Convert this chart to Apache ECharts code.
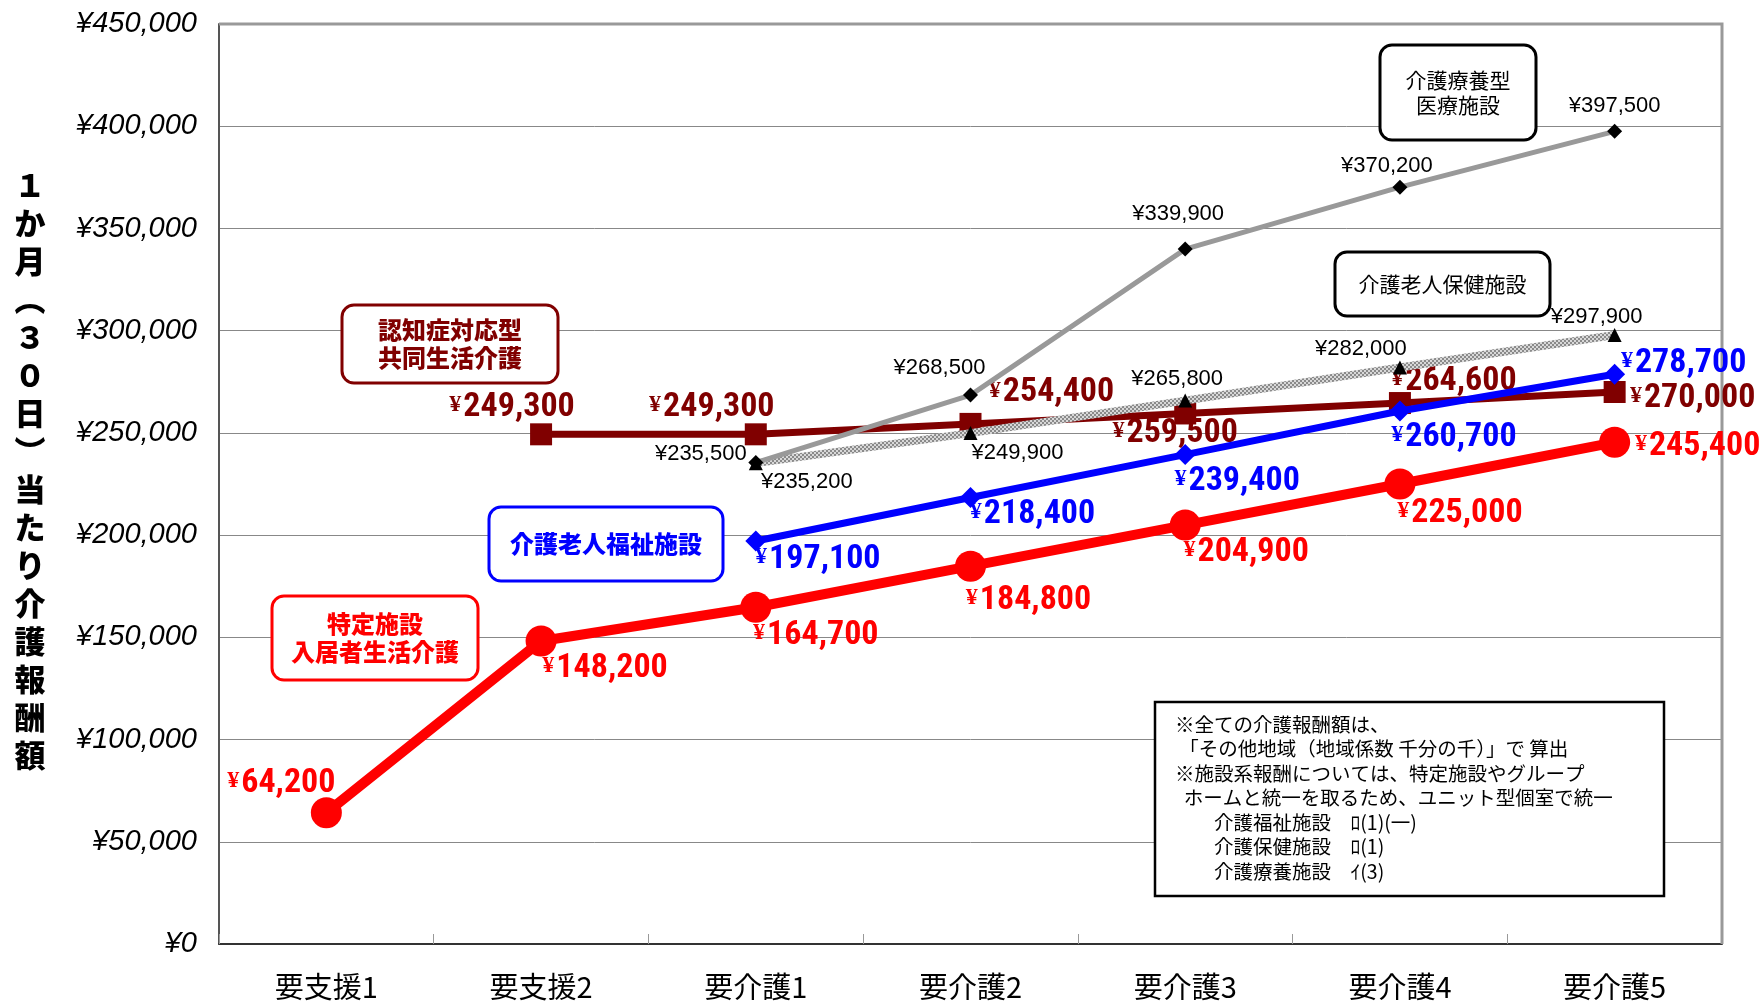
<!DOCTYPE html>
<html>
<head>
<meta charset="utf-8">
<script src="https://cdn.jsdelivr.net/npm/echarts@6/dist/echarts.min.js"></script>
<style>
  html, body { margin: 0; padding: 0; background: #fff; }
  #chart { width: 1762px; height: 1004px; }
</style>
</head>
<body>
<div id="chart"></div>
<script>
const categories = ['要支援1', '要支援2', '要介護1', '要介護2', '要介護3', '要介護4', '要介護5'];
const tokuteiValues = [64200, 148200, 164700, 184800, 204900, 225000, 245400];
const groupHomeValues = [null, 249300, 249300, 254400, 259500, 264600, 270000];
const fukushiValues = [null, null, 197100, 218400, 239400, 260700, 278700];
const hokenValues = [null, null, 235200, 249900, 265800, 282000, 297900];
const ryoyoValues = [null, null, 235500, 268500, 339900, 370200, 397500];
const yTicks = [0, 50000, 100000, 150000, 200000, 250000, 300000, 350000, 400000, 450000];

// label offsets from the marker centre (layout only)
const tokuteiOffsets = [[-45, -29], [64, 27], [60, 28], [58, 34], [61, 27], [60, 29], [83, 4]];
const groupHomeOffsets = [null, [-29, -27], [-44, -27], [81, -31], [-10, 20], [54, -22], [78, 6]];
const fukushiOffsets = [null, null, [62, 18], [62, 17], [52, 27], [54, 26], [69, -11]];
const hokenOffsets = [null, null, [51, 19], [47, 20], [-8, -22], [-39, -19], [-18, -18]];
const ryoyoOffsets = [null, null, [-55, -9], [-31, -27], [-7, -35], [-13, -21], [0, -25]];

const yen = v => '¥' + Number(v).toLocaleString('en-US');
const popFont = '"Roboto Condensed", "Open Sans", sans-serif';
const jpFont = '"Noto Sans CJK JP", sans-serif';
const plainFont = '"Liberation Sans", Arial, sans-serif';

const build = (values, offsets) => values.map((v, i) =>
  v == null ? '-' : { value: v, label: { offset: offsets[i] } });

// bold "pop" label with a smaller yen sign
const popLabel = color => ({
  show: true, position: 'inside',
  formatter: p => '{y|¥}{n|' + Number(p.value).toLocaleString('en-US') + '}',
  rich: {
    y: { color: color, fontSize: 24, fontWeight: 'bold', fontFamily: '"Liberation Serif", serif',
      verticalAlign: 'middle', padding: [0, 2, 5, 0] },
    n: { color: color, fontSize: 34, fontWeight: 'bold', fontFamily: popFont }
  }
});
const plainLabel = {
  show: true, position: 'inside', formatter: p => yen(p.value),
  color: '#000', fontSize: 22, fontFamily: plainFont
};

// hatched stroke for 介護老人保健施設
const hatch = document.createElement('canvas');
hatch.width = 4; hatch.height = 4;
const hctx = hatch.getContext('2d');
hctx.fillStyle = '#d8d8d8'; hctx.fillRect(0, 0, 4, 4);
hctx.fillStyle = '#8a8a8a';
hctx.fillRect(0, 0, 2, 2); hctx.fillRect(2, 2, 2, 2);

const chart = echarts.init(document.getElementById('chart'));

const boxText = (x, y, w, h, text, color, bold, size) => ({
  type: 'group',
  children: [
    { type: 'rect', shape: { x: x, y: y, width: w, height: h, r: 12 },
      style: { fill: '#fff', stroke: color, lineWidth: 3 }, z: 10 },
    { type: 'text', x: x + w / 2, y: y + h / 2, z: 11,
      style: { text: text, fill: color, font: (bold ? '900 ' : '') + size + 'px ' + jpFont,
        textAlign: 'center', textVerticalAlign: 'middle', lineHeight: size * 1.15 } }
  ]
});

const noteLines = [
  '※全ての介護報酬額は、',
  ' 「その他地域（地域係数 千分の千）」で 算出',
  '※施設系報酬については、特定施設やグループ',
  '  ホームと統一を取るため、ユニット型個室で統一',
  '　　介護福祉施設　ﾛ(1)(一)',
  '　　介護保健施設　ﾛ(1)',
  '　　介護療養施設　ｲ(3)'
];

const option = {
  backgroundColor: '#fff',
  animation: false,
  grid: { left: 219, right: 40, top: 24, bottom: 60 },
  xAxis: {
    type: 'category',
    data: categories,
    boundaryGap: true,
    axisLine: { lineStyle: { color: '#333', width: 2 } },
    axisTick: { show: true, inside: true, length: 10, lineStyle: { color: '#999' } },
    axisLabel: { color: '#000', fontSize: 29, fontFamily: jpFont, margin: 28 }
  },
  yAxis: {
    type: 'value',
    min: 0, max: 450000, interval: 50000,
    axisLine: { show: true, lineStyle: { color: '#555', width: 2 } },
    axisTick: { show: false },
    splitLine: { lineStyle: { color: '#888', width: 1 } },
    axisLabel: {
      color: '#000', fontSize: 29, fontStyle: 'italic',
      fontFamily: plainFont, margin: 22,
      formatter: v => yTicks.includes(v) ? yen(v) : ''
    }
  },
  graphic: [
    // plot frame (top/right)
    { type: 'polyline', z: 1, shape: { points: [[219, 24], [1722, 24], [1722, 944]] },
      style: { stroke: '#999', lineWidth: 3, fill: null } },
    { type: 'text', x: 30, y: 166,
      style: { text: '１\nか\n月\n︵\n３\n０\n日\n︶\n当\nた\nり\n介\n護\n報\n酬\n額',
        font: '900 31px ' + jpFont, fill: '#000', textAlign: 'center', lineHeight: 38 } },
    boxText(342, 305, 216, 78, '認知症対応型\n共同生活介護', '#800000', true, 24),
    boxText(489, 507, 234, 74, '介護老人福祉施設', '#0000ff', true, 24),
    boxText(272, 596, 206, 84, '特定施設\n入居者生活介護', '#ff0000', true, 24),
    boxText(1380, 45, 156, 95, '介護療養型\n医療施設', '#000', false, 21),
    boxText(1335, 252, 215, 64, '介護老人保健施設', '#000', false, 21),
    { type: 'rect', z: 10, shape: { x: 1155, y: 702, width: 509, height: 194 },
      style: { fill: '#fff', stroke: '#000', lineWidth: 2.5 } },
    { type: 'text', z: 11, x: 1175, y: 712,
      style: { text: noteLines.join('\n'), font: '19.5px ' + jpFont, fill: '#000',
        lineHeight: 24.5, textAlign: 'left' } }
  ],
  series: [
    {
      name: '認知症対応型共同生活介護', type: 'line', z: 3,
      data: build(groupHomeValues, groupHomeOffsets),
      symbol: 'rect', symbolSize: 22,
      lineStyle: { color: '#800000', width: 7 },
      itemStyle: { color: '#800000' },
      label: popLabel('#800000')
    },
    {
      name: '介護老人保健施設', type: 'line', z: 4,
      data: build(hokenValues, hokenOffsets),
      symbol: 'triangle', symbolSize: 14,
      lineStyle: { color: { image: hatch, repeat: 'repeat' }, width: 8 },
      itemStyle: { color: '#000' },
      label: plainLabel
    },
    {
      name: '介護療養型医療施設', type: 'line', z: 5,
      data: build(ryoyoValues, ryoyoOffsets),
      symbol: 'diamond', symbolSize: 15,
      lineStyle: { color: '#999', width: 5 },
      itemStyle: { color: '#000' },
      label: plainLabel
    },
    {
      name: '介護老人福祉施設', type: 'line', z: 6,
      data: build(fukushiValues, fukushiOffsets),
      symbol: 'diamond', symbolSize: 21,
      lineStyle: { color: '#0000ff', width: 7 },
      itemStyle: { color: '#0000ff' },
      label: popLabel('#0000ff')
    },
    {
      name: '特定施設入居者生活介護', type: 'line', z: 7,
      data: build(tokuteiValues, tokuteiOffsets),
      symbol: 'circle', symbolSize: 31,
      lineStyle: { color: '#ff0000', width: 10 },
      itemStyle: { color: '#ff0000' },
      label: popLabel('#ff0000')
    }
  ]
};

chart.setOption(option);
</script>
</body>
</html>
